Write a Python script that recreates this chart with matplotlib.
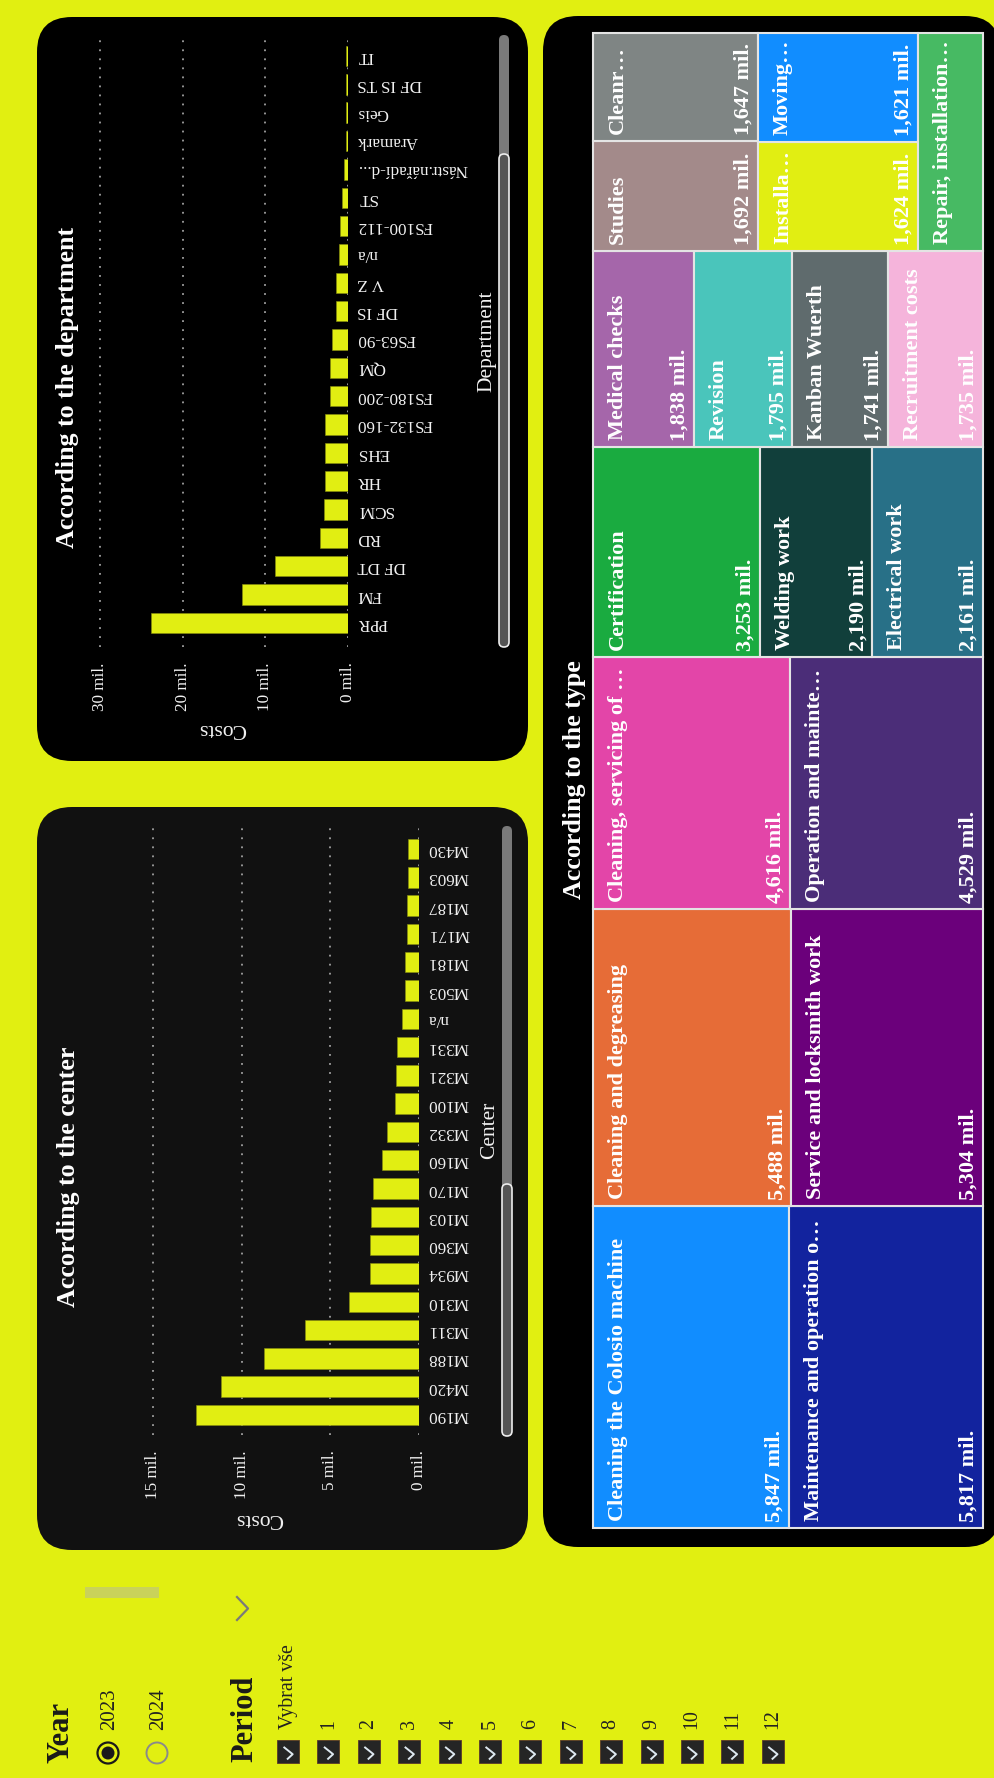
import matplotlib
matplotlib.use("Agg")
import matplotlib.pyplot as plt
from matplotlib.patches import FancyBboxPatch, Rectangle, Circle
import numpy as np

plt.rcParams['font.family'] = ['Liberation Serif', 'DejaVu Serif']

W, H = 995, 1778
BG = '#E1EF11'
BAR = '#E1EE12'
TXT = '#F2F2F2'

# costs by center (mil.)
centers = ['M190', 'M420', 'M188', 'M311', 'M310', 'M934', 'M360', 'M103', 'M170', 'M160', 'M332',
           'M100', 'M321', 'M331', 'n/a', 'M503', 'M181', 'M171', 'M187', 'M603', 'M430']
center_costs = [12.6, 11.15, 8.74, 6.45, 3.97, 2.76, 2.76, 2.73, 2.59, 2.07, 1.79,
                1.35, 1.32, 1.22, 0.94, 0.79, 0.77, 0.70, 0.68, 0.62, 0.60]
center_ticks = [0, 5, 10, 15]

# costs by department (mil.)
departments = ['PPR', 'FM', 'DF DT', 'RD', 'SCM', 'HR', 'EHS', 'FS132-160', 'FS180-200', 'QM', 'FS63-90',
               'DF IS', 'V Z', 'n/a', 'FS100-112', 'ST', 'Nástr.nářadí-d...', 'Aramark', 'Geis', 'DF IS TS', 'IT']
dept_costs = [23.8, 12.8, 8.87, 3.35, 2.86, 2.82, 2.78, 2.78, 2.22, 2.14, 1.90,
              1.49, 1.41, 1.09, 1.01, 0.78, 0.50, 0.30, 0.28, 0.26, 0.25]
dept_ticks = [0, 10, 20, 30]

# costs by type (treemap)
type_names = ['Cleaning the Colosio machine', 'Maintenance and operation o…', 'Cleaning and degreasing',
              'Service and locksmith work', 'Cleaning, servicing of …', 'Operation and mainte…',
              'Certification', 'Welding work', 'Electrical work', 'Medical checks', 'Revision',
              'Kanban Wuerth', 'Recruitment costs', 'Studies', 'Cleanr…', 'Installa…', 'Moving…',
              'Repair, installation…']
type_costs = [5847, 5817, 5488, 5304, 4616, 4529, 3253, 2190, 2161, 1838, 1795,
              1741, 1735, 1692, 1647, 1624, 1621, 1320]
type_colors = ['#118DFF', '#12239E', '#E66C37', '#6B007B', '#E345A8', '#4B2D78',
               '#1AAB40', '#113F3B', '#287087', '#A566AA', '#4AC5BB',
               '#5F6B6D', '#F5B4DB', '#A38A8A', '#7F8584', '#E1EE12', '#118DFF',
               '#47BA63']
# tiles grouped into bands (bottom to top), each band split into strips, strips stacked
tile_groups = [[[0], [1]], [[2], [3]], [[4], [5]], [[6], [7], [8]],
               [[9], [10], [11], [12]], [[13, 14], [15, 16], [17]]]

years = ['2023', '2024']
periods = ['Vybrat vše'] + [str(m) for m in range(1, 13)]

fig = plt.figure(figsize=(W / 100, H / 100), dpi=100, facecolor=BG)
bg = fig.add_axes([0, 0, 1, 1])
bg.set_xlim(0, W)
bg.set_ylim(H, 0)
bg.axis('off')


def panel(x0, y0, x1, y1, color):
    bg.add_patch(FancyBboxPatch((x0, y0), x1 - x0, y1 - y0,
                                boxstyle='round,pad=0,rounding_size=35',
                                fc=color, ec='none', zorder=1))


def scrollbar(x, y0, y_split, y1):
    bg.add_patch(FancyBboxPatch((x - 5, y0), 10, y1 - y0, boxstyle='round,pad=0,rounding_size=5',
                                fc='#7a7a7a', ec='none', zorder=2))
    bg.add_patch(FancyBboxPatch((x - 5, y_split), 10, y1 - y_split, boxstyle='round,pad=0,rounding_size=5',
                                fc='#555555', ec='#eeeeee', lw=1.2, zorder=3))


def bar_chart(x0, y0, x1, y1, cats, vals, xmax, ticks, ylim):
    ax = fig.add_axes([x0 / W, 1 - y1 / H, (x1 - x0) / W, (y1 - y0) / H])
    ax.set_facecolor('none')
    pos = np.arange(len(cats))
    ax.barh(pos, vals, height=0.72, color=BAR, edgecolor='#8a9010', lw=0.4, zorder=3)
    ax.set_xlim(xmax, 0)
    ax.set_ylim(*ylim)
    ax.set_xticks(ticks)
    ax.set_xticklabels([f'{t} mil.' for t in ticks], rotation=90, ha='center', va='top')
    ax.yaxis.tick_right()
    ax.set_yticks(pos)
    ax.set_yticklabels(cats, rotation=180, ha='left', va='center')
    ax.tick_params(length=0, colors=TXT, labelsize=12.3)
    ax.tick_params(axis='x', pad=11)
    ax.tick_params(axis='y', pad=6.5)
    for s in ax.spines.values():
        s.set_visible(False)
    ax.grid(axis='x', color='#a0a0a0', linestyle=(0, (1, 4)), lw=1.3)
    ax.grid(axis='y', visible=False)
    ax.set_axisbelow(True)
    return ax


# department chart
panel(37, 17, 528, 761, '#000000')
bar_chart(92, 35, 348, 647, departments, dept_costs, 31, dept_ticks, (-0.85, 20.74))
bg.text(68, 387, 'According to the department', rotation=90, ha='center', va='center',
        color='white', fontsize=18.7, fontweight='bold', zorder=4)
bg.text(222, 729, 'Costs', rotation=180, ha='center', va='center', color=TXT, fontsize=15.5, zorder=4)
bg.text(487, 341, 'Department', rotation=90, ha='center', va='center', color=TXT, fontsize=15.5, zorder=4)
scrollbar(504, 35, 154, 647)

# center chart
panel(37, 807, 528, 1550, '#111111')
bar_chart(146, 823, 419, 1435, centers, center_costs, 15.4, center_ticks, (-0.71, 20.92))
bg.text(68, 1177, 'According to the center', rotation=90, ha='center', va='center',
        color='white', fontsize=18.7, fontweight='bold', zorder=4)
bg.text(259, 1518, 'Costs', rotation=180, ha='center', va='center', color=TXT, fontsize=15.5, zorder=4)
bg.text(490, 1130, 'Center', rotation=90, ha='center', va='center', color=TXT, fontsize=15.5, zorder=4)
scrollbar(507, 826, 1184, 1436)

# treemap by type
panel(543, 16, 1000, 1547, '#000000')
bg.text(574, 780, 'According to the type', rotation=90, ha='center', va='center',
        color='white', fontsize=18.7, fontweight='bold', zorder=4)
tx0, tx1, ty0, ty1 = 593, 983, 33, 1528
total = sum(type_costs)
y_cur = ty1
for band in tile_groups:
    band_sum = sum(type_costs[i] for strip in band for i in strip)
    band_h = band_sum / total * (ty1 - ty0)
    x_cur = tx0
    for strip in band:
        strip_sum = sum(type_costs[i] for i in strip)
        strip_w = strip_sum / band_sum * (tx1 - tx0)
        yy = y_cur
        for i in strip:
            h = type_costs[i] / strip_sum * band_h
            bg.add_patch(Rectangle((x_cur, yy - h), strip_w, h, fc=type_colors[i],
                                   ec='#E4E4E4', lw=1.5, zorder=2))
            bg.text(x_cur + 15, yy - 7, type_names[i], rotation=90, ha='left', va='bottom',
                    color='white', fontsize=16, fontweight='bold', zorder=4)
            if strip_w > 80:
                bg.text(x_cur + strip_w - 4, yy - 6, f'{type_costs[i]:,} mil.', rotation=90,
                        ha='right', va='bottom', color='white', fontsize=16, fontweight='bold', zorder=4)
            yy -= h
        x_cur += strip_w
    y_cur -= band_h

# slicers
bg.text(61, 1763, 'Year', rotation=90, ha='center', va='bottom', color='#1a1a1a',
        fontsize=22, fontweight='bold')
for k, yr in enumerate(years):
    cx = 108 + k * 49
    if k == 0:
        bg.add_patch(Circle((cx, 1753), 10.5, fc='none', ec='#1a1a1a', lw=1.6))
        bg.add_patch(Circle((cx, 1753), 6.5, fc='#1a1a1a', ec='none'))
    else:
        bg.add_patch(Circle((cx, 1753), 10.5, fc='none', ec='#8a8a8a', lw=1.4))
    bg.text(cx + 1.5, 1730, yr, rotation=90, ha='center', va='bottom', color='#222222', fontsize=15)
bg.add_patch(Rectangle((85, 1587), 74, 11, fc='#C9D25A', ec='none'))
bg.plot([237, 248, 237], [1597, 1608.5, 1620], color='#7a7a7a', lw=1.6)

bg.text(245, 1762, 'Period', rotation=90, ha='center', va='bottom', color='#1a1a1a',
        fontsize=22, fontweight='bold')
for k, lab in enumerate(periods):
    cx = 288 + k * 40.4
    bg.add_patch(Rectangle((cx - 11, 1740), 22, 23, fc='#252525', ec='#5a3a2a', lw=0.6))
    bg.plot([cx - 3.7, cx + 4.7, cx - 0.3], [1747.5, 1754.2, 1758.8], color='#DDE8F0', lw=1.4)
    bg.text(cx, 1729, lab, rotation=90, ha='center', va='bottom', color='#222222', fontsize=14.4)

fig.savefig('out.png', dpi=100, facecolor=BG)
